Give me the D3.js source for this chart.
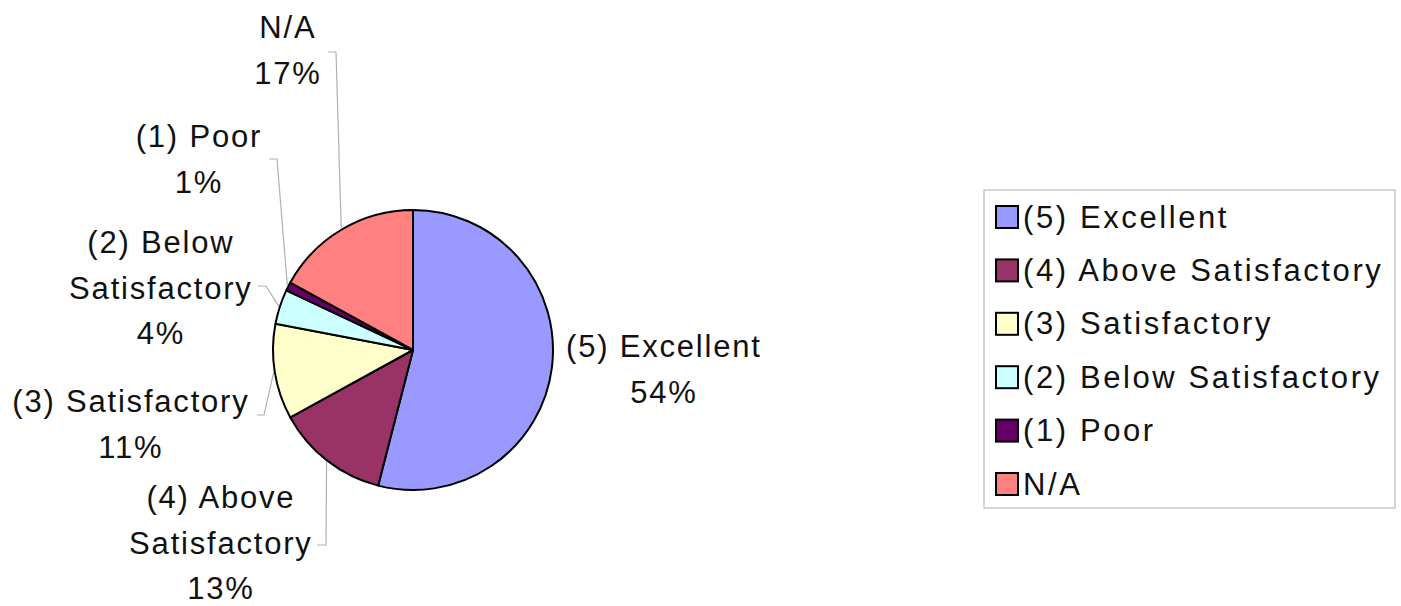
<!DOCTYPE html>
<html>
<head>
<meta charset="utf-8">
<script src="https://cdn.jsdelivr.net/npm/d3@7/dist/d3.min.js"></script>
<style>
  html, body { margin: 0; padding: 0; background: #fff; }
  svg { display: block; }
  text { font-family: "Liberation Sans", Arial, Helvetica, sans-serif; fill: #111; }
</style>
</head>
<body>
<svg id="chart" width="1401" height="606"></svg>
<script>
// ---- data ----
const categories = ["(5) Excellent", "(4) Above Satisfactory", "(3) Satisfactory",
                    "(2) Below Satisfactory", "(1) Poor", "N/A"];
const values = [54, 13, 11, 4, 1, 17];
const colors = ["#9999FF", "#993366", "#FFFFCC", "#CCFFFF", "#660066", "#FF8080"];

// ---- layout (not data) ----
const W = 1401, H = 606;
const cx = 413, cy = 350, R = 140;
const fontSize = 31, letterSp = 1.8, lineH = 45.5;
// label anchor: [centre x, first baseline y, wrap name]
const labelLayout = [
  [663, 357, false],
  [220, 508, true],
  [130, 412, false],
  [160, 253, true],
  [198, 147, false],
  [287, 38, false]
];
// leader tick: [x start, x end, y] or null
const leaderLayout = [
  null,
  [317, 326, 545],
  [257, 264, 415],
  [258, 266, 286],
  [269, 277, 159],
  [328, 336, 52]
];

const svg = d3.select("#chart");

const pie = d3.pie().sort(null).value(d => d)
  .startAngle(0).endAngle(2 * Math.PI);
const arcs = pie(values);
const arcGen = d3.arc().innerRadius(0).outerRadius(R);

const g = svg.append("g").attr("transform", `translate(${cx},${cy})`);
g.selectAll("path.slice").data(arcs).enter().append("path")
  .attr("class", "slice")
  .attr("d", arcGen)
  .attr("fill", (d, i) => colors[i])
  .attr("stroke", "#000")
  .attr("stroke-width", 2)
  .attr("stroke-linejoin", "round");

// leader lines
arcs.forEach((a, i) => {
  const L = leaderLayout[i];
  if (!L) return;
  const mid = (a.startAngle + a.endAngle) / 2;
  const ex = cx + (R + 1) * Math.sin(mid);
  const ey = cy - (R + 1) * Math.cos(mid);
  const line = d3.line();
  svg.append("path")
    .attr("d", line([[L[0], L[2]], [L[1], L[2]], [ex, ey]]))
    .attr("fill", "none")
    .attr("stroke", "#b0b0b0")
    .attr("stroke-width", 1.2);
});

// data labels
arcs.forEach((a, i) => {
  const [lx, ly, wrap] = labelLayout[i];
  const name = categories[i];
  let lines;
  if (wrap) {
    const k = name.lastIndexOf(" ");
    lines = [name.slice(0, k), name.slice(k + 1)];
  } else {
    lines = [name];
  }
  const pct = Math.round(a.data / d3.sum(values) * 100) + "%";
  lines.push(pct);
  const t = svg.append("text")
    .attr("text-anchor", "middle")
    .attr("font-size", fontSize)
    .attr("letter-spacing", letterSp);
  lines.forEach((s, j) => {
    t.append("tspan").attr("x", lx + letterSp / 2).attr("y", ly + j * lineH).text(s);
  });
});

// legend
const legX = 984, legY = 190, legW = 411, legH = 318;
const leg = svg.append("g");
leg.append("rect")
  .attr("x", legX).attr("y", legY).attr("width", legW).attr("height", legH)
  .attr("fill", "#fff").attr("stroke", "#c8c8c8").attr("stroke-width", 1.5);
const rowY = d3.scalePoint().domain(categories).range([217, 484]);
const rows = leg.selectAll("g.row").data(categories).enter().append("g")
  .attr("class", "row")
  .attr("transform", d => `translate(0,${rowY(d)})`);
rows.append("rect")
  .attr("x", 996).attr("y", -11).attr("width", 22).attr("height", 22)
  .attr("fill", (d, i) => colors[i])
  .attr("stroke", "#000").attr("stroke-width", 2);
rows.append("text")
  .attr("x", 1023).attr("y", 10.5)
  .attr("font-size", fontSize)
  .attr("letter-spacing", 2.6)
  .text(d => d);
</script>
</body>
</html>
